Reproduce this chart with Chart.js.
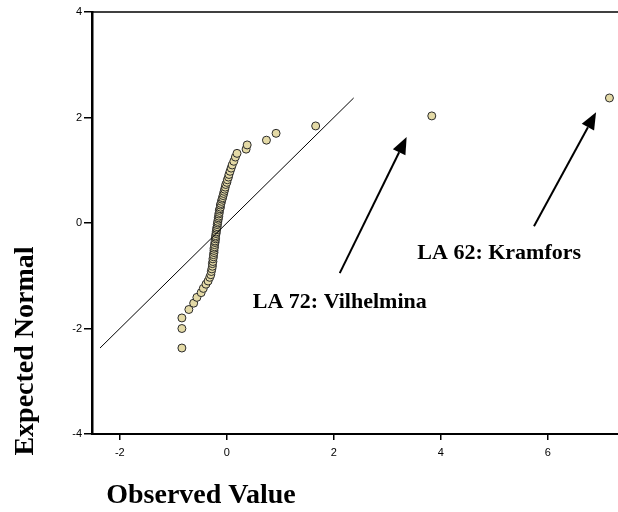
<!DOCTYPE html>
<html>
<head>
<meta charset="utf-8">
<script src="https://cdn.jsdelivr.net/npm/chart.js@4/dist/chart.umd.min.js"></script>
<style>
  html, body { margin: 0; padding: 0; background: #ffffff; }
  canvas { display: block; }
</style>
</head>
<body>
<canvas id="qq" width="618" height="512"></canvas>
<script>
// Normal Q-Q plot: observed value of each LA region against its expected normal score
const observedValues = [
  -0.84, -0.84, -0.84, -0.71, -0.62, -0.56, -0.48, -0.44, -0.39, -0.35,
  -0.32, -0.30, -0.29, -0.28, -0.27, -0.27, -0.26, -0.26, -0.25, -0.25,
  -0.24, -0.24, -0.24, -0.23, -0.23, -0.22, -0.22, -0.21, -0.21, -0.21,
  -0.20, -0.20, -0.19, -0.19, -0.18, -0.18, -0.17,
  -0.17, -0.16, -0.16, -0.15, -0.15, -0.14, -0.14, -0.13, -0.12, -0.12,
  -0.11, -0.10, -0.09, -0.08, -0.07, -0.06, -0.05, -0.04, -0.03, -0.02,
   0.00,  0.01,  0.03,  0.04,  0.06,  0.08,  0.10,  0.13,  0.16,  0.19,
   0.36,  0.38,  0.74,  0.92,  1.66,  3.83,  7.15
];
const expectedNormal = [
  -2.37, -2.00, -1.80, -1.64, -1.52, -1.41, -1.32, -1.24, -1.16, -1.10,
  -1.03, -0.98, -0.92, -0.87, -0.82, -0.77, -0.73, -0.68, -0.64, -0.60,
  -0.56, -0.52, -0.48, -0.45, -0.41, -0.37, -0.34, -0.30, -0.27, -0.24,
  -0.20, -0.17, -0.13, -0.10, -0.07, -0.03,  0.00,
   0.03,  0.07,  0.10,  0.13,  0.17,  0.20,  0.24,  0.27,  0.30,  0.34,
   0.37,  0.41,  0.45,  0.48,  0.52,  0.56,  0.60,  0.64,  0.68,  0.73,
   0.77,  0.82,  0.87,  0.92,  0.98,  1.04,  1.10,  1.17,  1.25,  1.32,
   1.40,  1.48,  1.57,  1.70,  1.84,  2.03,  2.37
];
// ends of the y = x reference line
const referenceLine = [-2.37, 2.37];
const xTickValues = [-2, 0, 2, 4, 6];
const yTickValues = [-4, -2, 0, 2, 4];
const xTitle = 'Observed Value';
const yTitle = 'Expected Normal';

// labelled outliers with their pointer arrows (data coordinates)
const callouts = [
  { text: 'LA 72: Vilhelmina', at: [2.11, -1.50], from: [2.11, -0.95], to: [3.36, 1.63] },
  { text: 'LA 62: Kramfors',   at: [5.09, -0.57], from: [5.74, -0.06], to: [6.90, 2.10] }
];

const points = observedValues.map((x, i) => ({ x: x, y: expectedNormal[i] }));
const refPoints = referenceLine.map(v => ({ x: v, y: v }));

const serif = '"Liberation Serif", "Times New Roman", serif';

const decorations = {
  id: 'decorations',
  afterDraw(chart) {
    const ctx = chart.ctx;
    const xs = chart.scales.x, ys = chart.scales.y;
    const area = chart.chartArea;
    ctx.save();

    // frame line along the top of the plot
    ctx.strokeStyle = '#000';
    ctx.lineWidth = 1.5;
    ctx.beginPath();
    ctx.moveTo(area.left, area.top);
    ctx.lineTo(chart.width, area.top);
    ctx.stroke();

    // callout arrows and labels
    callouts.forEach(c => {
      const x0 = xs.getPixelForValue(c.from[0]), y0 = ys.getPixelForValue(c.from[1]);
      const x1 = xs.getPixelForValue(c.to[0]),   y1 = ys.getPixelForValue(c.to[1]);
      const ang = Math.atan2(y1 - y0, x1 - x0);
      const headLen = 17, headHalf = 7;
      const bx = x1 - headLen * Math.cos(ang), by = y1 - headLen * Math.sin(ang);
      ctx.strokeStyle = '#000';
      ctx.lineWidth = 2;
      ctx.beginPath();
      ctx.moveTo(x0, y0);
      ctx.lineTo(bx, by);
      ctx.stroke();
      ctx.fillStyle = '#000';
      ctx.beginPath();
      ctx.moveTo(x1, y1);
      ctx.lineTo(bx + headHalf * Math.sin(ang), by - headHalf * Math.cos(ang));
      ctx.lineTo(bx - headHalf * Math.sin(ang), by + headHalf * Math.cos(ang));
      ctx.closePath();
      ctx.fill();

      ctx.font = 'bold 22px ' + serif;
      ctx.textAlign = 'center';
      ctx.textBaseline = 'middle';
      ctx.fillText(c.text, xs.getPixelForValue(c.at[0]), ys.getPixelForValue(c.at[1]));
    });

    // axis titles
    ctx.fillStyle = '#000';
    ctx.font = 'bold 28px ' + serif;
    ctx.textAlign = 'center';
    ctx.textBaseline = 'middle';
    ctx.fillText(xTitle, 201, 496);
    ctx.translate(26, 351);
    ctx.rotate(-Math.PI / 2);
    ctx.fillText(yTitle, 0, 0);
    ctx.restore();
  }
};

new Chart(document.getElementById('qq'), {
  type: 'scatter',
  data: {
    datasets: [
      {
        type: 'line',
        data: refPoints,
        borderColor: '#000',
        borderWidth: 1,
        pointRadius: 0,
        fill: false,
        order: 0
      },
      {
        data: points,
        pointRadius: 4,
        pointBackgroundColor: '#e4daa6',
        pointBorderColor: '#2a2a2a',
        pointBorderWidth: 1,
        order: 1
      }
    ]
  },
  options: {
    responsive: false,
    animation: false,
    layout: { autoPadding: false, padding: { top: 12, right: 0, left: 0, bottom: 0 } },
    plugins: { legend: { display: false }, tooltip: { enabled: false } },
    scales: {
      x: {
        type: 'linear',
        min: -2.52,
        max: 7.31,
        afterBuildTicks: s => { s.ticks = xTickValues.map(v => ({ value: v })); },
        afterFit: s => { s.height = 78; s.paddingLeft = 0; s.paddingRight = 0; },
        ticks: {
          autoSkip: false,
          maxRotation: 0,
          padding: 6,
          color: '#000',
          font: { family: '"Liberation Sans", Arial, sans-serif', size: 11 }
        },
        grid: { drawOnChartArea: false, drawTicks: true, tickLength: 6, color: '#000', lineWidth: 1.5 },
        border: { display: true, color: '#000', width: 2 }
      },
      y: {
        type: 'linear',
        min: -4,
        max: 4,
        afterBuildTicks: s => { s.ticks = yTickValues.map(v => ({ value: v })); },
        afterFit: s => { s.width = 92; s.paddingTop = 0; s.paddingBottom = 0; },
        ticks: {
          autoSkip: false,
          padding: 2,
          color: '#000',
          font: { family: '"Liberation Sans", Arial, sans-serif', size: 11 }
        },
        grid: { drawOnChartArea: false, drawTicks: true, tickLength: 8, color: '#000', lineWidth: 1.5 },
        border: { display: true, color: '#000', width: 2.5 }
      }
    }
  },
  plugins: [decorations]
});
</script>
</body>
</html>
